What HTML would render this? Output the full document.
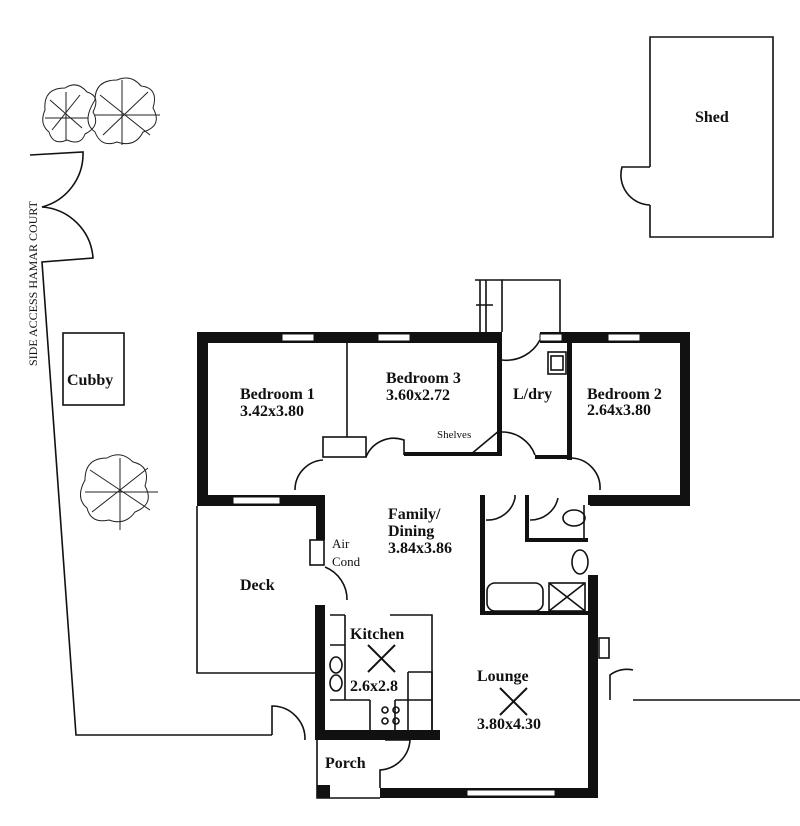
<!DOCTYPE html>
<html><head><meta charset="utf-8"><style>
html,body{margin:0;padding:0;background:#fff;}
svg{display:block;}
text{font-family:"Liberation Serif",serif;font-weight:bold;font-size:16px;fill:#111;}
</style></head><body>
<svg width="800" height="826" viewBox="0 0 800 826" xmlns="http://www.w3.org/2000/svg">
<g fill="none" stroke="#111" stroke-width="1.6">
<path d="M650 167 V37 H773 V237 H650 V205"/>
<path d="M650 167 L622 167 A30 30 0 0 0 650 205"/>
<rect x="63" y="333" width="61" height="72"/>
<path d="M30 155 L83 152 A55 55 0 0 1 42 207 A55 55 0 0 1 93 258 L42 262 L76 735 L272 735"/>
<path d="M272 735 V706 A33 33 0 0 1 305 740"/>
<path d="M633 700 H800"/>
<path d="M610 700 V675 A28 28 0 0 1 633 670"/>
<path d="M475 280 H502 V332 M480 280 V332 M486 280 V332 M476 305 H493"/>
<path d="M502 280 H560 V332"/>
<path d="M197 506 V673 H315"/>
<path d="M347 343 V437"/>
<rect x="323" y="437" width="43" height="20"/>
<path d="M366 457 A30 30 0 0 1 404 440 V455"/>
<path d="M295 490 A30 30 0 0 1 323 460"/>
<path d="M410 455 L470 455 M470 455 L500 430"/>
<path d="M502 360 A38 38 0 0 0 540 340"/>
<path d="M502 432 A35 35 0 0 1 535 455"/>
<path d="M572 458 A30 30 0 0 1 600 490"/>
<rect x="548" y="352" width="18" height="22"/><rect x="551" y="356" width="12" height="14"/>
<path d="M486 520 A28 28 0 0 0 515 498 V495 M530 520 A28 28 0 0 0 558 498"/>
<ellipse cx="574" cy="518" rx="11" ry="8"/>
<ellipse cx="580" cy="562" rx="8" ry="12"/>
<rect x="487" y="583" width="56" height="28" rx="8"/>
<rect x="549" y="583" width="36" height="28"/><path d="M549 583 L585 611 M585 583 L549 611"/>
<path d="M584 505 V540"/>
<rect x="310" y="540" width="14" height="25"/>
<path d="M325 567 A35 35 0 0 1 347 600"/>
<path d="M330 615 H345 M390 615 H432 V730 M345 615 V700"/>
<path d="M330 645 H345 M330 700 H370 M395 700 H432 M408 672 H432 V730 M408 672 V730 M370 700 V730 M395 700 V730"/>
<circle cx="385" cy="710" r="3"/><circle cx="396" cy="710" r="3"/><circle cx="385" cy="721" r="3"/><circle cx="396" cy="721" r="3"/>
<ellipse cx="336" cy="665" rx="6" ry="8"/><ellipse cx="336" cy="683" rx="6" ry="8"/>
<path d="M317 740 V798 H380"/>
<path d="M380 788 V770 A32 32 0 0 0 410 740 H385"/>
<rect x="599" y="638" width="10" height="20"/>
</g>
<g stroke="#111" stroke-width="2" fill="none">
<path d="M368 645 L395 672 M395 645 L368 672"/>
<path d="M500 688 L527 715 M527 688 L500 715"/>
</g>
<g fill="none" stroke="#222" stroke-width="1">
<path d="M45 110 q-2-22 20-22 q12-8 22 4 q14 4 6 20 q8 14 -8 22 q-4 12-18 6 q-14 6-18-8 q-10-8-4-22z"/>
<path d="M50 100 L82 128 M80 95 L52 130 M66 92 V140 M45 118 H88"/>
<path d="M95 100 q0-20 22-20 q14-6 24 6 q18 2 12 22 q10 18-10 24 q-8 16-26 10 q-16 6-22-10 q-14-10 0-32z"/>
<path d="M100 95 L150 135 M148 92 L103 135 M122 80 V145 M95 115 H160"/>
<path d="M85 480 q0-22 22-22 q14-8 26 4 q18 4 12 24 q10 18-10 26 q-10 14-26 8 q-18 4-22-12 q-12-10-2-28z"/>
<path d="M90 470 L150 510 M148 468 L92 512 M120 458 V530 M85 492 H158"/>
</g>
<g fill="#111">
<rect x="197" y="332" width="305" height="11"/>
<rect x="540" y="332" width="150" height="11"/>
<rect x="197" y="332" width="11" height="174"/>
<rect x="680" y="332" width="10" height="174"/>
<rect x="197" y="495" width="128" height="11"/>
<rect x="316" y="495" width="9" height="45"/>
<rect x="590" y="495" width="100" height="11"/>
<rect x="497" y="343" width="5" height="113"/>
<rect x="567" y="343" width="5" height="117"/>
<rect x="404" y="452" width="98" height="4"/>
<rect x="535" y="455" width="35" height="4"/>
<rect x="480" y="495" width="5" height="120"/>
<rect x="480" y="611" width="118" height="4"/>
<rect x="525" y="495" width="4" height="45"/>
<rect x="525" y="538" width="63" height="4"/>
<rect x="588" y="495" width="10" height="10"/>
<rect x="588" y="575" width="10" height="223"/>
<rect x="380" y="788" width="218" height="10"/>
<rect x="315" y="605" width="10" height="135"/>
<rect x="315" y="730" width="125" height="10"/>
<rect x="317" y="785" width="13" height="13"/>
</g>
<g fill="#fff" stroke="#111" stroke-width="1">
<rect x="282" y="334" width="32" height="7"/>
<rect x="378" y="334" width="32" height="7"/>
<rect x="540" y="334" width="22" height="7"/>
<rect x="608" y="334" width="32" height="7"/>
<rect x="233" y="497" width="47" height="7"/>
<rect x="467" y="790" width="88" height="6"/>
</g>
<text x="695" y="122">Shed</text>
<text x="240" y="399">Bedroom 1</text><text x="240" y="416">3.42x3.80</text>
<text x="386" y="383">Bedroom 3</text><text x="386" y="400">3.60x2.72</text>
<text x="513" y="399">L/dry</text>
<text x="587" y="399">Bedroom 2</text><text x="587" y="415">2.64x3.80</text>
<text x="437" y="438" style="font-size:11px;font-weight:normal">Shelves</text>
<text x="388" y="519">Family/</text><text x="388" y="536">Dining</text><text x="388" y="553">3.84x3.86</text>
<text x="332" y="548" style="font-size:13px;font-weight:normal">Air</text>
<text x="332" y="566" style="font-size:13px;font-weight:normal">Cond</text>
<text x="240" y="590">Deck</text>
<text x="350" y="639">Kitchen</text>
<text x="350" y="691">2.6x2.8</text>
<text x="477" y="681">Lounge</text>
<text x="477" y="729">3.80x4.30</text>
<text x="325" y="768">Porch</text>
<text x="67" y="385">Cubby</text>
<text transform="translate(37,366) rotate(-90)" style="font-size:12px;font-weight:normal">SIDE ACCESS HAMAR COURT</text>
</svg>
</body></html>
